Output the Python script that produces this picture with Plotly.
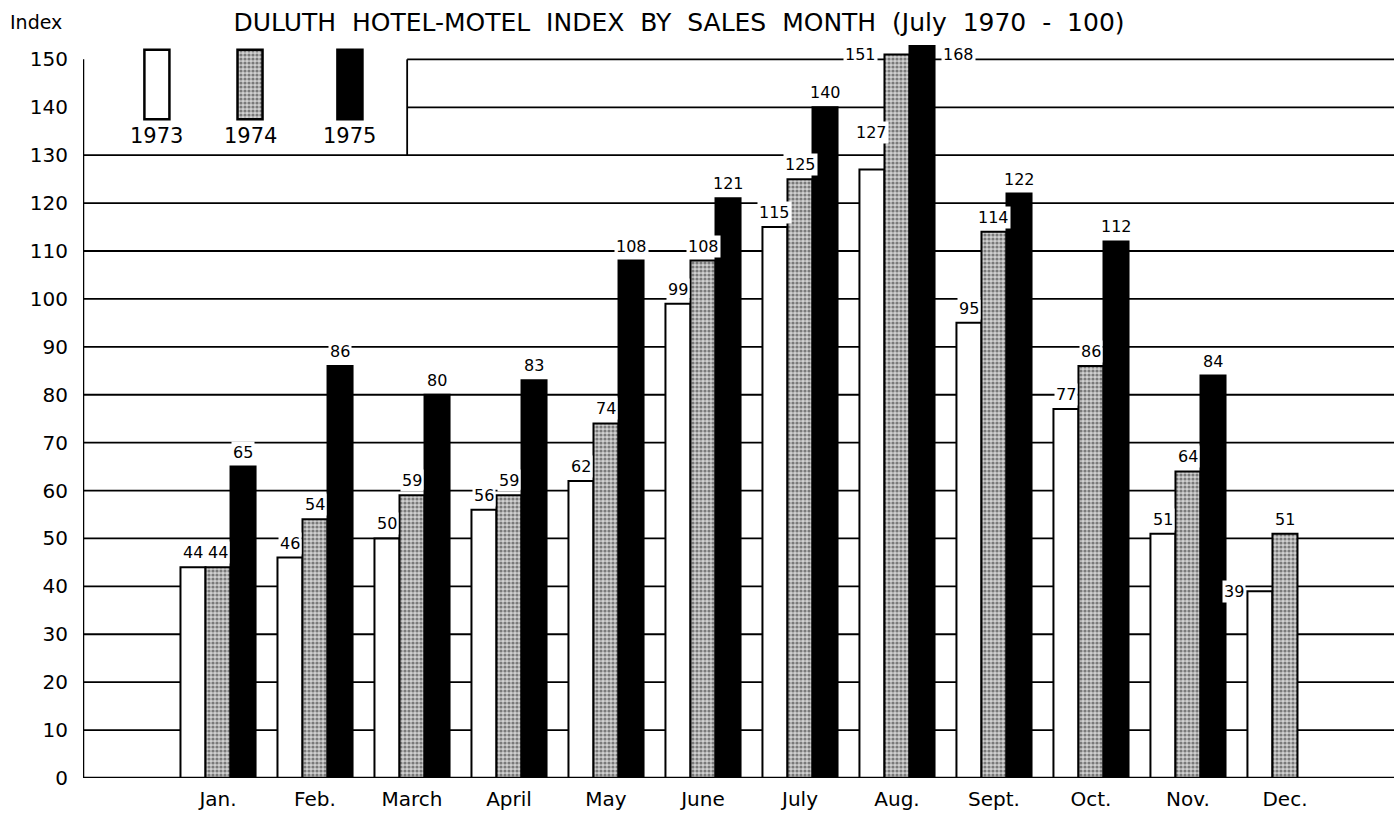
import plotly.graph_objects as go
import numpy as np

months = ["Jan.", "Feb.", "March", "April", "May", "June", "July", "Aug.", "Sept.", "Oct.", "Nov.", "Dec."]
years = ["1973", "1974", "1975"]
v1973 = [44, 46, 50, 56, 62, 99, 115, 127, 95, 77, 51, 39]
v1974 = [44, 54, 59, 59, 74, 108, 125, 151, 114, 86, 64, 51]
v1975 = [65, 86, 80, 83, 108, 121, 140, 168, 122, 112, 84, None]
y_ticks = list(range(0, 151, 10))
title_words = ["DULUTH", "HOTEL-MOTEL", "INDEX", "BY", "SALES", "MONTH", "(July", "1970", "-", "100)"]

series = [v1973, v1974, v1975]
FONT = "DejaVu Sans"
YMAX = 153
XMIN, XMAX = -1.392, 12.124
BW = 0.258
W, H = 1394, 815
ML, MR, MT, MB = 83, 0, 45, 37

x = np.arange(len(months))

STIPPLE = dict(shape=".", fgcolor="#222222", bgcolor="#d0d0d0", size=4, solidity=0.5)
markers = [
    dict(color="white", line=dict(color="black", width=2)),
    dict(color="#c8c8c8", line=dict(color="black", width=2), pattern=STIPPLE),
    dict(color="black", line=dict(color="black", width=2)),
]

fig = go.Figure()
for k, (name, vals, mk) in enumerate(zip(years, series, markers)):
    fig.add_trace(go.Bar(x=x, y=vals, name=name, showlegend=False, width=BW,
                         offset=(k - 1.5) * BW, marker=mk, cliponaxis=True))

# legend swatches (drawn as bars at the top-left of the plot)
leg_x = [-0.63, 0.33, 1.36]
LEG_BOT, LEG_TOP = 137.5, 152
for k, (cx, mk) in enumerate(zip(leg_x, markers)):
    m = dict(mk)
    m["line"] = dict(color="black", width=2.5)
    fig.add_trace(go.Bar(x=[cx], y=[LEG_TOP - LEG_BOT], base=[LEG_BOT], width=BW, offset=-BW / 2,
                         showlegend=False, marker=m, hoverinfo="skip"))
for cx, yr in zip(leg_x, years):
    fig.add_annotation(x=cx, y=134, xref="x", yref="y", text=yr, showarrow=False,
                       font=dict(family=FONT, size=21, color="black"), yanchor="middle")

# gridlines (behind bars)
shapes = []
for t in y_ticks[1:]:
    x0 = XMIN if t <= 130 else 1.95
    shapes.append(dict(type="line", xref="x", yref="y", x0=x0, x1=XMAX, y0=t, y1=t,
                       line=dict(color="black", width=1.8), layer="below"))
shapes.append(dict(type="line", xref="x", yref="y", x0=1.95, x1=1.95, y0=130, y1=150,
                   line=dict(color="black", width=1.8), layer="below"))
shapes.append(dict(type="line", xref="x", yref="y", x0=XMIN, x1=XMIN, y0=0, y1=150,
                   line=dict(color="black", width=2.5), layer="above"))
shapes.append(dict(type="line", xref="x", yref="y", x0=XMIN, x1=XMAX, y0=0, y1=0,
                   line=dict(color="black", width=2.5), layer="above"))
fig.update_layout(shapes=shapes)

# value labels
special = {
    (7, 0): dict(yshift=26),
    (7, 1): dict(side="left"),
    (7, 2): dict(side="right"),
    (11, 0): dict(side="left", xshift=-1),
}
for k, vals in enumerate(series):
    for i, v in enumerate(vals):
        if v is None:
            continue
        bx = i + (k - 1) * BW
        sp = special.get((i, k), {})
        kw = dict(showarrow=False, font=dict(family=FONT, size=16, color="black"),
                  bgcolor="white", borderpad=1, xref="x", yref="y", text=str(v))
        if sp.get("side") == "left":
            fig.add_annotation(x=bx - BW / 2, y=min(v, 151), xanchor="right", yanchor="middle",
                               xshift=sp.get("xshift", -6), **kw)
        elif sp.get("side") == "right":
            fig.add_annotation(x=bx + BW / 2, y=min(v, 151), xanchor="left", yanchor="middle", xshift=6, **kw)
        else:
            fig.add_annotation(x=bx, y=v, xanchor="center", yanchor="bottom",
                               xshift=sp.get("xshift", 0), yshift=sp.get("yshift", 3), **kw)

pw, ph = W - ML - MR, H - MT - MB
fig.add_annotation(x=(8 - ML) / pw, y=1 + (MT - 22) / ph, xref="paper", yref="paper", text="Index",
                   showarrow=False, xanchor="left", yanchor="middle",
                   font=dict(family=FONT, size=19, color="black"))

fig.update_layout(
    width=W, height=H,
    margin=dict(l=ML, r=MR, t=MT, b=MB, autoexpand=False),
    paper_bgcolor="white", plot_bgcolor="white",
    barmode="overlay",
    font=dict(family=FONT, color="black"),
    title=dict(text=" \u00a0".join(title_words),
               x=679 / W, xref="container", xanchor="center", y=1 - 22 / H, yref="container", yanchor="middle",
               font=dict(family=FONT, size=25, color="black")),
    xaxis=dict(range=[XMIN, XMAX], tickvals=list(x), ticktext=months, showgrid=False, zeroline=False,
               showline=False, ticks="", tickfont=dict(family=FONT, size=20), ticklabelstandoff=7),
    yaxis=dict(range=[0, YMAX], tickvals=y_ticks, showgrid=False, zeroline=False, showline=False,
               ticks="", tickfont=dict(family=FONT, size=20), ticklabelstandoff=14),
)
fig.write_html("out.html", config={"displayModeBar": False},
               post_script="document.body.style.margin='0';document.body.style.overflow='hidden';")
